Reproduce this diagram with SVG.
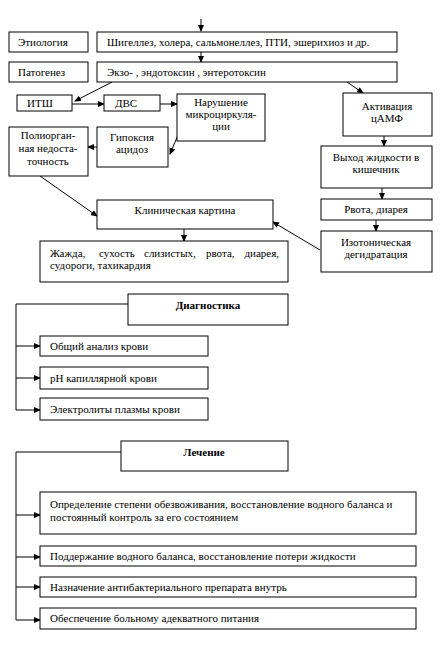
<svg xmlns="http://www.w3.org/2000/svg" width="441" height="651" viewBox="0 0 441 651">
<style>
rect{fill:#fff;stroke:#000;stroke-width:1}
text{font-family:"Liberation Serif","Times New Roman",serif;font-size:11px;fill:#000}
.c{text-anchor:middle}
.e{text-anchor:end}
.b{font-weight:bold}
.l{stroke:#000;stroke-width:1;fill:none}
.a{stroke:#000;stroke-width:1;fill:none;marker-end:url(#ah)}
</style>
<defs>
<marker id="ah" markerWidth="7" markerHeight="6" refX="6" refY="3" orient="auto" markerUnits="userSpaceOnUse">
<path d="M0,0 L7,3 L0,6 Z" fill="#000"/>
</marker>
</defs>
<rect x="0" y="0" width="441" height="651" style="stroke:none"/>
<g id="connectors">
<line class="a" x1="201" y1="19" x2="201" y2="31"/>
<line class="a" x1="201" y1="52" x2="201" y2="62"/>
<line class="a" x1="112" y1="82" x2="75" y2="101"/>
<line class="a" x1="347" y1="82" x2="363" y2="93"/>
<line class="a" x1="72" y1="104" x2="104" y2="104"/>
<line class="a" x1="160" y1="104" x2="177" y2="104"/>
<line class="a" x1="178" y1="135" x2="170" y2="154"/>
<line class="a" x1="97" y1="147" x2="88" y2="147"/>
<line class="a" x1="384" y1="136" x2="384" y2="146"/>
<line class="a" x1="382" y1="188" x2="382" y2="199"/>
<line class="a" x1="40" y1="176" x2="97" y2="216"/>
<line class="a" x1="184" y1="229" x2="184" y2="241"/>
<line class="a" x1="376" y1="220" x2="376" y2="231"/>
<line class="a" x1="320" y1="250" x2="273" y2="222"/>
<polyline class="l" points="128,304 16,304 16,410"/>
<line class="a" x1="16" y1="346" x2="40" y2="346"/>
<line class="a" x1="16" y1="378" x2="40" y2="378"/>
<line class="a" x1="16" y1="410" x2="40" y2="410"/>
<polyline class="l" points="121,452 16,452 16,620"/>
<line class="a" x1="16" y1="515" x2="40" y2="515"/>
<line class="a" x1="16" y1="557" x2="40" y2="557"/>
<line class="a" x1="16" y1="587" x2="40" y2="587"/>
<line class="a" x1="16" y1="620" x2="40" y2="620"/>
</g>
<g id="etiology"><rect x="9" y="32" width="79" height="20"/><text x="18" y="46">Этиология</text></g>
<g id="agents"><rect x="97" y="32" width="300" height="20"/><text x="107" y="46">Шигеллез, холера, сальмонеллез, ПТИ, эшерихиоз и др.</text></g>
<g id="pathogenesis"><rect x="9" y="62" width="79" height="20"/><text x="18" y="76">Патогенез</text></g>
<g id="toxins"><rect x="97" y="62" width="300" height="20"/><text x="107" y="76">Экзо- , эндотоксин , энтеротоксин</text></g>
<g id="itsh"><rect x="17" y="95" width="55" height="16"/><text x="27" y="107">ИТШ</text></g>
<g id="dvs"><rect x="104" y="95" width="56" height="16"/><text x="115" y="107">ДВС</text></g>
<g id="microcirculation"><rect x="177" y="94" width="88" height="47"/><text class="c" x="221" y="106">Нарушение</text><text class="c" x="221" y="118">микроциркуля-</text><text class="c" x="221" y="130">ции</text></g>
<g id="camp"><rect x="343" y="93" width="89" height="43"/><text class="c" x="387" y="110">Активация</text><text class="c" x="387" y="122">цАМФ</text></g>
<g id="polyorgan"><rect x="9" y="127" width="79" height="49"/><text class="c" x="48" y="139">Полиорган-</text><text class="c" x="48" y="152">ная недоста-</text><text class="c" x="48" y="165">точность</text></g>
<g id="hypoxia"><rect x="97" y="127" width="71" height="40"/><text class="c" x="132" y="141">Гипоксия</text><text class="c" x="132" y="153">ацидоз</text></g>
<g id="fluid"><rect x="321" y="146" width="111" height="42"/><text class="c" x="376" y="161">Выход жидкости в</text><text class="c" x="376" y="173">кишечник</text></g>
<g id="clinic"><rect x="97" y="200" width="176" height="29"/><text class="c" x="185" y="214">Клиническая картина</text></g>
<g id="vomit"><rect x="321" y="199" width="111" height="21"/><text class="c" x="376" y="213">Рвота, диарея</text></g>
<g id="dehydration"><rect x="321" y="231" width="111" height="41"/><text class="c" x="376" y="246">Изотоническая</text><text class="c" x="376" y="258">дегидратация</text></g>
<g id="symptoms"><rect x="40" y="241" width="248" height="41"/><text x="50" y="257">Жажда,</text><text x="99" y="257">сухость</text><text x="144" y="257">слизистых,</text><text x="206" y="257">рвота,</text><text class="e" x="279" y="257">диарея,</text><text x="50" y="269">судороги, тахикардия</text></g>
<g id="diagnostics"><rect x="128" y="294" width="160" height="31"/><text class="c b" x="208" y="309">Диагностика</text></g>
<g id="blood"><rect x="40" y="336" width="168" height="20"/><text x="50" y="350">Общий анализ крови</text></g>
<g id="ph"><rect x="40" y="367" width="168" height="22"/><text x="50" y="382">рН капиллярной крови</text></g>
<g id="electrolytes"><rect x="40" y="398" width="168" height="22"/><text x="50" y="413">Электролиты плазмы крови</text></g>
<g id="treatment"><rect x="121" y="441" width="167" height="30"/><text class="c b" x="204" y="456">Лечение</text></g>
<g id="t1"><rect x="40" y="492" width="376" height="42"/><text x="50" y="508">Определение степени обезвоживания, восстановление водного баланса и</text><text x="50" y="521">постоянный контроль за его состоянием</text></g>
<g id="t2"><rect x="40" y="546" width="376" height="20"/><text x="50" y="560">Поддержание водного баланса, восстановление потери жидкости</text></g>
<g id="t3"><rect x="40" y="577" width="376" height="20"/><text x="50" y="591">Назначение антибактериального препарата внутрь</text></g>
<g id="t4"><rect x="40" y="608" width="376" height="21"/><text x="50" y="622">Обеспечение больному адекватного питания</text></g>
</svg>
